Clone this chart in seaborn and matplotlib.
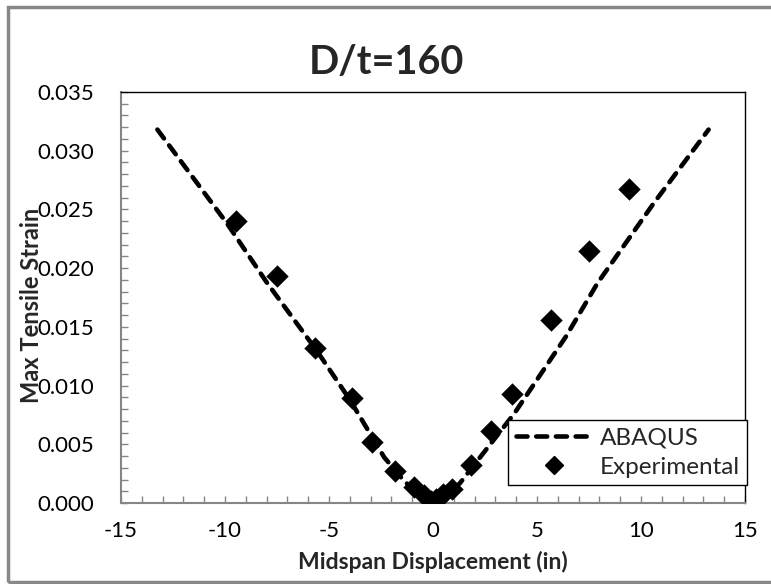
import numpy as np
import pandas as pd
import seaborn as sns
import matplotlib.pyplot as plt
from matplotlib.ticker import MultipleLocator, FormatStrFormatter
from matplotlib.patches import Rectangle
from matplotlib.lines import Line2D

abaqus_x = [-13.25, -9.9, -8.0, -5.6, -4.0, -2.35, -1.45, -0.7, 0.0,
            0.7, 1.3, 2.4, 3.9, 5.0, 6.4, 7.9, 10.6, 13.25]
abaqus_y = [0.0318, 0.0238, 0.0188, 0.0130, 0.0088, 0.0039, 0.0020, 0.0007, 0.0,
            0.0007, 0.0017, 0.0042, 0.0076, 0.0105, 0.0142, 0.0187, 0.0255, 0.0318]

# experimental points
exp_x = [-9.45, -7.5, -5.65, -3.9, -2.93, -1.85, -0.9, -0.45, -0.1,
         0.15, 0.5, 0.9, 1.84, 2.8, 3.8, 5.65, 7.5, 9.4]
exp_y = [0.0240, 0.0193, 0.0132, 0.0089, 0.0052, 0.0027, 0.0014, 0.0007, 0.0002,
         0.0003, 0.0008, 0.0012, 0.0032, 0.0061, 0.0093, 0.0156, 0.0215, 0.0267]

abaqus = pd.DataFrame({'x': abaqus_x, 'y': abaqus_y})
exp = pd.DataFrame({'x': exp_x, 'y': exp_y})

sns.set_style('white')
plt.rcParams['font.family'] = ['Lato', 'DejaVu Sans']
plt.rcParams['axes.unicode_minus'] = False

fig = plt.figure(figsize=(7.71, 5.84), dpi=100)
ax = fig.add_axes([121/771, 81/584, 624/771, 411/584])

dash = (0, (2.4, 1.9))
sns.lineplot(data=abaqus, x='x', y='y', ax=ax, sort=False, estimator=None,
             color='black', lw=3.3, linestyle=dash, dash_capstyle='round')
sns.scatterplot(data=exp, x='x', y='y', ax=ax, marker='D', s=130,
                color='black', edgecolor='black', linewidth=0, zorder=3)

ax.set_xlim(-15, 15)
ax.set_ylim(0, 0.035)
ax.xaxis.set_major_locator(MultipleLocator(5))
ax.xaxis.set_minor_locator(MultipleLocator(1))
ax.yaxis.set_major_locator(MultipleLocator(0.005))
ax.yaxis.set_minor_locator(MultipleLocator(0.001))
ax.yaxis.set_major_formatter(FormatStrFormatter('%.3f'))

ax.tick_params(which='both', direction='in', length=5, width=1, color='#868686',
               bottom=True, left=True, top=False, right=False)
ax.tick_params(axis='both', which='major', labelsize=16, labelcolor='black')
ax.tick_params(axis='y', which='major', pad=19)
ax.tick_params(axis='x', which='major', pad=13)

for s in ['left', 'bottom']:
    ax.spines[s].set_color('#868686')
    ax.spines[s].set_linewidth(1.5)
for s in ['top', 'right']:
    ax.spines[s].set_color('black')
    ax.spines[s].set_linewidth(1)

ax.set_xlabel('Midspan Displacement (in)', fontsize=16.5, fontweight='bold', labelpad=7)
ax.set_ylabel('')
fig.text(32/771, 1 - 305/584, 'Max Tensile Strain', rotation=90, fontsize=17,
         fontweight='bold', ha='center', va='center')
fig.text(386/771, 1 - 62/584, 'D/t=160', fontsize=28.5, fontweight='bold',
         ha='center', va='center')

handles = [Line2D([], [], color='black', lw=3.3, linestyle=dash, dash_capstyle='round'),
           Line2D([], [], color='black', marker='D', ms=9, linestyle='none')]
leg = ax.legend(handles, ['ABAQUS', 'Experimental'], loc='lower right',
                bbox_to_anchor=(1.003, 0.044), fontsize=17.5, frameon=True,
                fancybox=False, edgecolor='black', framealpha=1,
                handlelength=3.2, handletextpad=0.25, borderpad=0.3,
                labelspacing=0.35, borderaxespad=0)
leg.get_frame().set_linewidth(1)

fig.add_artist(Rectangle((8/771, 2/584), 1.0, 575/584, transform=fig.transFigure,
                         fill=False, edgecolor='#888888', lw=2.5))

fig.savefig('out.png', dpi=100)
